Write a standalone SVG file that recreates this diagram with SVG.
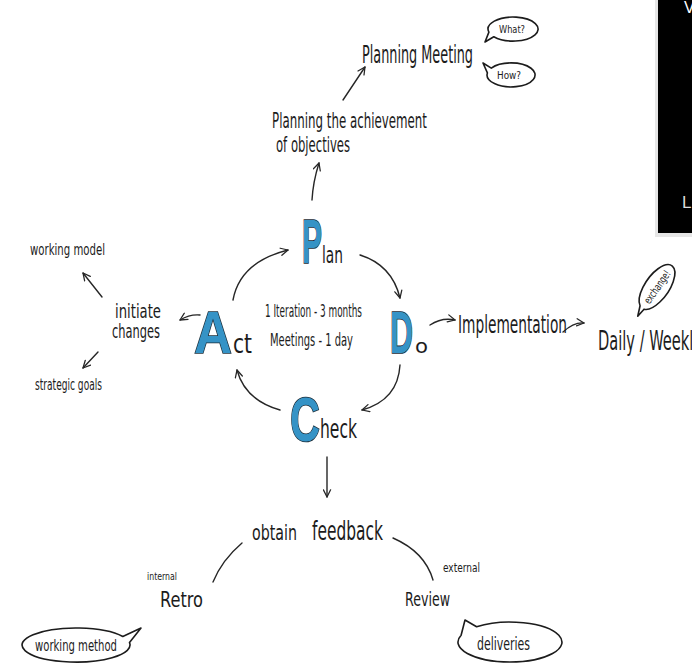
<svg xmlns="http://www.w3.org/2000/svg" width="692" height="664" viewBox="0 0 692 664">
  <defs>
    <style>
      .hand { font-family: "Liberation Sans Narrow", "DejaVu Sans Condensed", "Liberation Sans", sans-serif; fill: #1c1c1c; }
      .big { font-family: "Liberation Sans", "DejaVu Sans", sans-serif; font-weight: bold; fill: #3593c6; stroke: #1b2b36; stroke-width: 1.6; paint-order: stroke; }
      .line { fill: none; stroke: #262626; stroke-width: 1.4; stroke-linecap: round; }
      .arrow { fill: none; stroke: #262626; stroke-width: 1.4; stroke-linecap: round; marker-end: url(#head); }
      .bubble { fill: #ffffff; stroke: #1c1c1c; stroke-width: 1.6; stroke-linejoin: round; }
    </style>
    <marker id="head" viewBox="0 0 10 10" refX="9" refY="5" markerWidth="9" markerHeight="9" markerUnits="userSpaceOnUse" orient="auto">
      <path d="M1,1 L9,5 L1,9" fill="none" stroke="#262626" stroke-width="1.4" stroke-linecap="round" stroke-linejoin="round"/>
    </marker>
  </defs>

  <rect width="692" height="664" fill="#ffffff"/>

  <!-- dark panel at the right edge -->
  <g id="panel">
    <rect x="655" y="0" width="40" height="237" fill="#e6e6e6"/>
    <rect x="658" y="0" width="40" height="233" fill="#000000"/>
    <text x="684" y="13" font-family="Liberation Sans, sans-serif" font-size="16" fill="#ffffff">V</text>
    <text x="682" y="208" font-family="Liberation Sans, sans-serif" font-size="17" fill="#dddddd">L</text>
  </g>

  <!-- connectors -->
  <g id="connectors">
    <path class="arrow" d="M233,300 Q240,262 288,250"/>
    <path class="arrow" d="M360,255 Q392,265 400,298"/>
    <path class="arrow" d="M400,365 Q398,400 362,410"/>
    <path class="arrow" d="M280,410 Q245,400 237,370"/>
    <path class="arrow" d="M312,200 Q313,182 319,163"/>
    <path class="arrow" d="M343,100 L365,67"/>
    <path class="arrow" d="M200,315 Q190,314 180,320"/>
    <path class="arrow" d="M102,297 L83,273"/>
    <path class="arrow" d="M98,352 L83,368"/>
    <path class="arrow" d="M430,325 Q442,317 455,320"/>
    <path class="arrow" d="M563,332 Q574,322 584,323"/>
    <path class="arrow" d="M327,457 L327,497"/>
    <path class="line" d="M242,543 Q222,560 213,582"/>
    <path class="line" d="M393,538 Q425,552 433,580"/>
  </g>

  <!-- PDCA letters -->
  <g id="plan">
    <text class="big" x="302" y="263" font-size="63" textLength="20" lengthAdjust="spacingAndGlyphs">P</text>
    <text class="hand" x="322" y="263" font-size="23" textLength="21" lengthAdjust="spacingAndGlyphs">lan</text>
  </g>
  <g id="do">
    <text class="big" x="390" y="353" font-size="60" textLength="23" lengthAdjust="spacingAndGlyphs">D</text>
    <text class="hand" x="415" y="353" font-size="19" textLength="13" lengthAdjust="spacingAndGlyphs">o</text>
  </g>
  <g id="check">
    <text class="big" x="290" y="441" font-size="63" textLength="30" lengthAdjust="spacingAndGlyphs">C</text>
    <text class="hand" x="320" y="438" font-size="26" textLength="37" lengthAdjust="spacingAndGlyphs">heck</text>
  </g>
  <g id="act">
    <text class="big" x="194" y="353" font-size="60" textLength="38" lengthAdjust="spacingAndGlyphs">A</text>
    <text class="hand" x="233" y="353" font-size="26" textLength="19" lengthAdjust="spacingAndGlyphs">ct</text>
  </g>

  <g id="cycle-info">
    <text class="hand" x="265" y="317" font-size="17" textLength="97" lengthAdjust="spacingAndGlyphs">1 Iteration - 3 months</text>
    <text class="hand" x="270" y="346" font-size="18" textLength="83" lengthAdjust="spacingAndGlyphs">Meetings - 1 day</text>
  </g>

  <!-- plan branch -->
  <g id="planning-objectives">
    <text class="hand" x="272" y="128" font-size="21" textLength="155" lengthAdjust="spacingAndGlyphs">Planning the achievement</text>
    <text class="hand" x="276" y="152" font-size="21" textLength="74" lengthAdjust="spacingAndGlyphs">of objectives</text>
  </g>
  <g id="planning-meeting">
    <text class="hand" x="362" y="63" font-size="25" textLength="111" lengthAdjust="spacingAndGlyphs">Planning Meeting</text>
  </g>
  <g id="what">
    <path class="bubble" d="M488.9,32.1 A25,12 0 1,1 493.8,36.7 L485,42 Z"/>
    <text class="hand" x="499" y="33" font-size="11" textLength="26" lengthAdjust="spacingAndGlyphs">What?</text>
  </g>
  <g id="how">
    <path class="bubble" d="M491.3,68.1 A24,12 0 1,1 487.4,72.9 L483,63 Z"/>
    <text class="hand" x="497" y="79" font-size="11" textLength="24" lengthAdjust="spacingAndGlyphs">How?</text>
  </g>

  <!-- act branch -->
  <g id="initiate-changes">
    <text class="hand" x="115" y="318" font-size="19" textLength="46" lengthAdjust="spacingAndGlyphs">initiate</text>
    <text class="hand" x="112" y="338" font-size="19" textLength="48" lengthAdjust="spacingAndGlyphs">changes</text>
  </g>
  <g id="working-model">
    <text class="hand" x="30" y="255" font-size="16" textLength="75" lengthAdjust="spacingAndGlyphs">working model</text>
  </g>
  <g id="strategic-goals">
    <text class="hand" x="35" y="390" font-size="15" textLength="67" lengthAdjust="spacingAndGlyphs">strategic goals</text>
  </g>

  <!-- do branch -->
  <g id="implementation">
    <text class="hand" x="458" y="333" font-size="25" textLength="109" lengthAdjust="spacingAndGlyphs">Implementation</text>
  </g>
  <g id="daily-weekly">
    <text class="hand" x="598" y="350" font-size="27" textLength="104" lengthAdjust="spacingAndGlyphs">Daily / Weekly</text>
  </g>
  <g id="exchange" transform="translate(657,287) rotate(-55)">
    <path class="bubble" d="M-25.1,-3.1 A26,12 0 1,1 -25.6,2.1 L-35,1 Z"/>
    <text class="hand" x="-19" y="4" font-size="11" textLength="38" lengthAdjust="spacingAndGlyphs">exchange!</text>
  </g>

  <!-- check branch -->
  <g id="obtain-feedback">
    <text class="hand" x="252" y="540" font-size="21" textLength="45" lengthAdjust="spacingAndGlyphs">obtain</text>
    <text class="hand" x="312" y="540" font-size="27" textLength="71" lengthAdjust="spacingAndGlyphs">feedback</text>
  </g>
  <g id="retro">
    <text class="hand" x="147" y="580" font-size="10" textLength="30" lengthAdjust="spacingAndGlyphs">internal</text>
    <text class="hand" x="160" y="607" font-size="21" textLength="43" lengthAdjust="spacingAndGlyphs">Retro</text>
  </g>
  <g id="review">
    <text class="hand" x="443" y="572" font-size="12" textLength="37" lengthAdjust="spacingAndGlyphs">external</text>
    <text class="hand" x="405" y="606" font-size="20" textLength="45" lengthAdjust="spacingAndGlyphs">Review</text>
  </g>
  <g id="working-method">
    <path class="bubble" d="M129.5,642.6 A54,17 0 1,1 122.8,636.5 L141,628 Z"/>
    <text class="hand" x="35" y="651" font-size="15" textLength="82" lengthAdjust="spacingAndGlyphs">working method</text>
  </g>
  <g id="deliveries">
    <path class="bubble" d="M476.6,626.7 A52,20 0 1,1 461.1,635.2 L465,620 Z"/>
    <text class="hand" x="477" y="650" font-size="18" textLength="53" lengthAdjust="spacingAndGlyphs">deliveries</text>
  </g>
</svg>
